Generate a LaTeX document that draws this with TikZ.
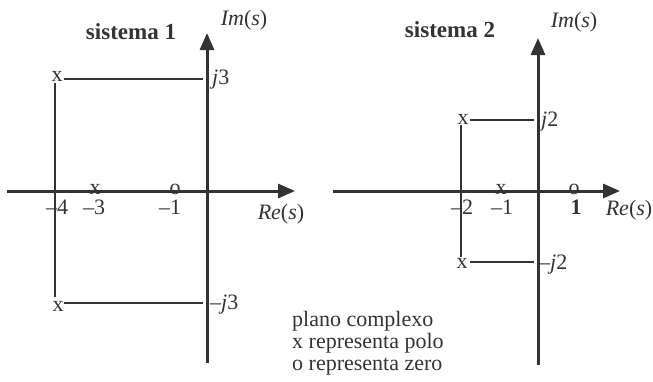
\documentclass[tikz,border=0pt]{standalone}
\usepackage{fontspec}
\setmainfont{Liberation Serif}
\usetikzlibrary{arrows.meta}
\definecolor{ink}{HTML}{333333}
\begin{document}
\begin{tikzpicture}[x=1bp, y=-1bp,
  axis/.style={draw=ink, line width=3bp, -{Triangle[length=17bp, width=14bp]}},
  rectline/.style={draw=ink, line width=2.6bp},
  sym/.style={text=ink, inner sep=0pt, font=\fontsize{22bp}{22bp}\selectfont},
  lbl/.style={text=ink, inner sep=0pt, font=\fontsize{22bp}{22bp}\selectfont},
  heading/.style={text=ink, inner sep=0pt, font=\fontsize{23bp}{23bp}\selectfont\bfseries}
]
\useasboundingbox (0,0) rectangle (653,381);
\coordinate (re1a) at (7,191);
\coordinate (re1b) at (295,191);
\coordinate (im1a) at (207,363);
\coordinate (im1b) at (207,33);
\draw[axis] (re1a) -- (re1b);
\draw[axis] (im1a) -- (im1b);
\node[sym] (p1) at (57,76) {x};
\node[sym] (p2) at (58,306) {x};
\node[sym] (p3) at (95,189) {x};
\node[sym] (z1) at (175,189) {o};
\draw[rectline] (55,83) -- (55,297);
\draw[rectline, shorten >=4bp] (64,79) -- (64,79 -| im1a);
\draw[rectline, shorten >=4bp] (64,303) -- (64,303 -| im1a);
\node[lbl] (m4) at (57,207) {–4};
\node[lbl] (m3) at (94,207) {–3};
\node[lbl] (m1) at (170,207) {–1};
\node[lbl] (re1) at (281,214) {\textit{Re}(\textit{s})};
\node[lbl, anchor=west] (j3) at (212,80) {\textit{j}3};
\node[lbl, anchor=west] (mj3) at (210,305) {–\textit{j}3};
\node[lbl] (im1) at (244,20) {\textit{Im}(\textit{s})};
\node[heading] (s1) at (131,32) {sistema 1};
\coordinate (re2a) at (333,191);
\coordinate (re2b) at (620,191);
\coordinate (im2a) at (538,365);
\coordinate (im2b) at (538,38);
\draw[axis] (re2a) -- (re2b);
\draw[axis] (im2a) -- (im2b);
\node[sym] (q1) at (463,119) {x};
\node[sym] (q2) at (462,263) {x};
\node[sym] (q3) at (501,189) {x};
\node[sym] (z2) at (574,189) {o};
\draw[rectline] (461,125) -- (461,257);
\draw[rectline, shorten >=4bp] (470,120) -- (470,120 -| im2a);
\draw[rectline, shorten >=4bp] (470,262) -- (470,262 -| im2a);
\node[lbl] (m2) at (462,207) {–2};
\node[lbl] (mm1) at (502,207) {–1};
\node[lbl] (p1l) at (576,207) {\textbf{1}};
\node[lbl] (re2) at (629,210) {\textit{Re}(\textit{s})};
\node[lbl, anchor=west] (j2) at (541,122) {\textit{j}2};
\node[lbl, anchor=west] (mj2) at (539,265) {–\textit{j}2};
\node[lbl] (im2) at (574,22) {\textit{Im}(\textit{s})};
\node[heading] (s2) at (450,30) {sistema 2};
\node[lbl, anchor=base west] (l1) at (292,326) {plano complexo};
\node[lbl, anchor=base west] (l2) at (292,348) {x representa polo};
\node[lbl, anchor=base west] (l3) at (292,370) {o representa zero};
\end{tikzpicture}
\end{document}
